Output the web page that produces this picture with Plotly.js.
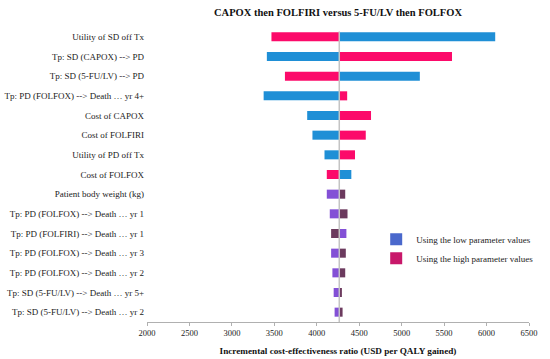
<!DOCTYPE html>
<html>
<head>
<meta charset="utf-8">
<script src="https://cdn.plot.ly/plotly-3.0.1.min.js"></script>
<style>html,body{margin:0;padding:0;background:#fff}#chart{width:550px;height:359px}</style>
</head>
<body>
<div id="chart"></div>
<script>
// Tornado data (ICER, USD per QALY gained)
const parameters = [
  "Utility of SD off Tx",
  "Tp: SD (CAPOX) --> PD",
  "Tp: SD (5-FU/LV) --> PD",
  "Tp: PD (FOLFOX) --> Death \u2026 yr 4+",
  "Cost of CAPOX",
  "Cost of FOLFIRI",
  "Utility of PD off Tx",
  "Cost of FOLFOX",
  "Patient body weight (kg)",
  "Tp: PD (FOLFOX) --> Death \u2026 yr 1",
  "Tp: PD (FOLFIRI) --> Death \u2026 yr 1",
  "Tp: PD (FOLFOX) --> Death \u2026 yr 3",
  "Tp: PD (FOLFOX) --> Death \u2026 yr 2",
  "Tp: SD (5-FU/LV) --> Death \u2026 yr 5+",
  "Tp: SD (5-FU/LV) --> Death \u2026 yr 2"
];
const baseICER = 4265;
const lowValues  = [6102, 3412, 5214, 3374, 3887, 3949, 4091, 4407, 4118, 4153, 4349, 4169, 4184, 4199, 4210];
const highValues = [3466, 5593, 3625, 4358, 4639, 4577, 4450, 4118, 4335, 4362, 4169, 4342, 4335, 4296, 4304];
const xTicks = [2000, 2500, 3000, 3500, 4000, 4500, 5000, 5500, 6000, 6500];

const serif = "Liberation Serif, Times New Roman, serif";
const blue = "#1f8fd6", pink = "#fc0a6a";
const purple = "#8350d6", dark = "#6c3a5e";
const nBig = 8;
const lowColors = parameters.map((p, i) => i < nBig ? blue : purple);
const highColors = parameters.map((p, i) => i < nBig ? pink : dark);

const barW = 0.46;
const traces = [
  {
    type: "bar", orientation: "h", y: parameters,
    x: lowValues.map(v => v - baseICER), base: baseICER,
    width: barW, marker: {color: lowColors, line: {width: 0}},
    showlegend: false, hoverinfo: "skip"
  },
  {
    type: "bar", orientation: "h", y: parameters,
    x: highValues.map(v => v - baseICER), base: baseICER,
    width: barW, marker: {color: highColors, line: {width: 0}},
    showlegend: false, hoverinfo: "skip"
  },
  { type: "bar", orientation: "h", x: [null], y: [null], name: "Using the low parameter values",
    marker: {color: "#4a68cc"}, showlegend: true },
  { type: "bar", orientation: "h", x: [null], y: [null], name: "Using the high parameter values",
    marker: {color: "#c8186a"}, showlegend: true }
];

const layout = {
  width: 550, height: 359,
  margin: {l: 147, r: 14, t: 27, b: 37},
  paper_bgcolor: "#fff", plot_bgcolor: "#fff",
  barmode: "overlay",
  font: {family: serif, color: "#222", size: 9},
  title: {
    text: "<b>CAPOX then FOLFIRI versus 5-FU/LV then FOLFOX</b>",
    font: {family: serif, size: 10.5, color: "#111"},
    x: 0.5, xref: "paper", y: 0.966, yref: "container", yanchor: "middle"
  },
  xaxis: {
    range: [2000, 6500], tickvals: xTicks, ticktext: xTicks.map(String),
    showgrid: false, zeroline: false,
    showline: true, linecolor: "#b0b0b0", linewidth: 1,
    ticks: "outside", ticklen: 3, tickcolor: "#b0b0b0",
    tickfont: {family: serif, size: 8.5, color: "#222"},
    title: {text: "<b>Incremental cost-effectiveness ratio (USD per QALY gained)</b>",
            font: {family: serif, size: 9.2, color: "#111"}, standoff: 10}
  },
  yaxis: {
    type: "category", autorange: "reversed",
    showgrid: false, zeroline: false, showline: false, ticks: "",
    tickfont: {family: serif, size: 9, color: "#222"}, ticklabelstandoff: 2
  },
  shapes: [{
    type: "line", xref: "x", yref: "paper", x0: baseICER, x1: baseICER, y0: 0, y1: 0.985,
    line: {color: "#c4c4c4", width: 1.5}, layer: "above"
  }],
  legend: {
    x: 0.6, y: 0.33, xanchor: "left", yanchor: "top",
    font: {family: serif, size: 9, color: "#222"},
    bgcolor: "rgba(0,0,0,0)", itemwidth: 30, tracegroupgap: 0
  },
  bargap: 0.5
};

Plotly.newPlot("chart", traces, layout, {displayModeBar: false, staticPlot: true});
</script>
</body>
</html>
